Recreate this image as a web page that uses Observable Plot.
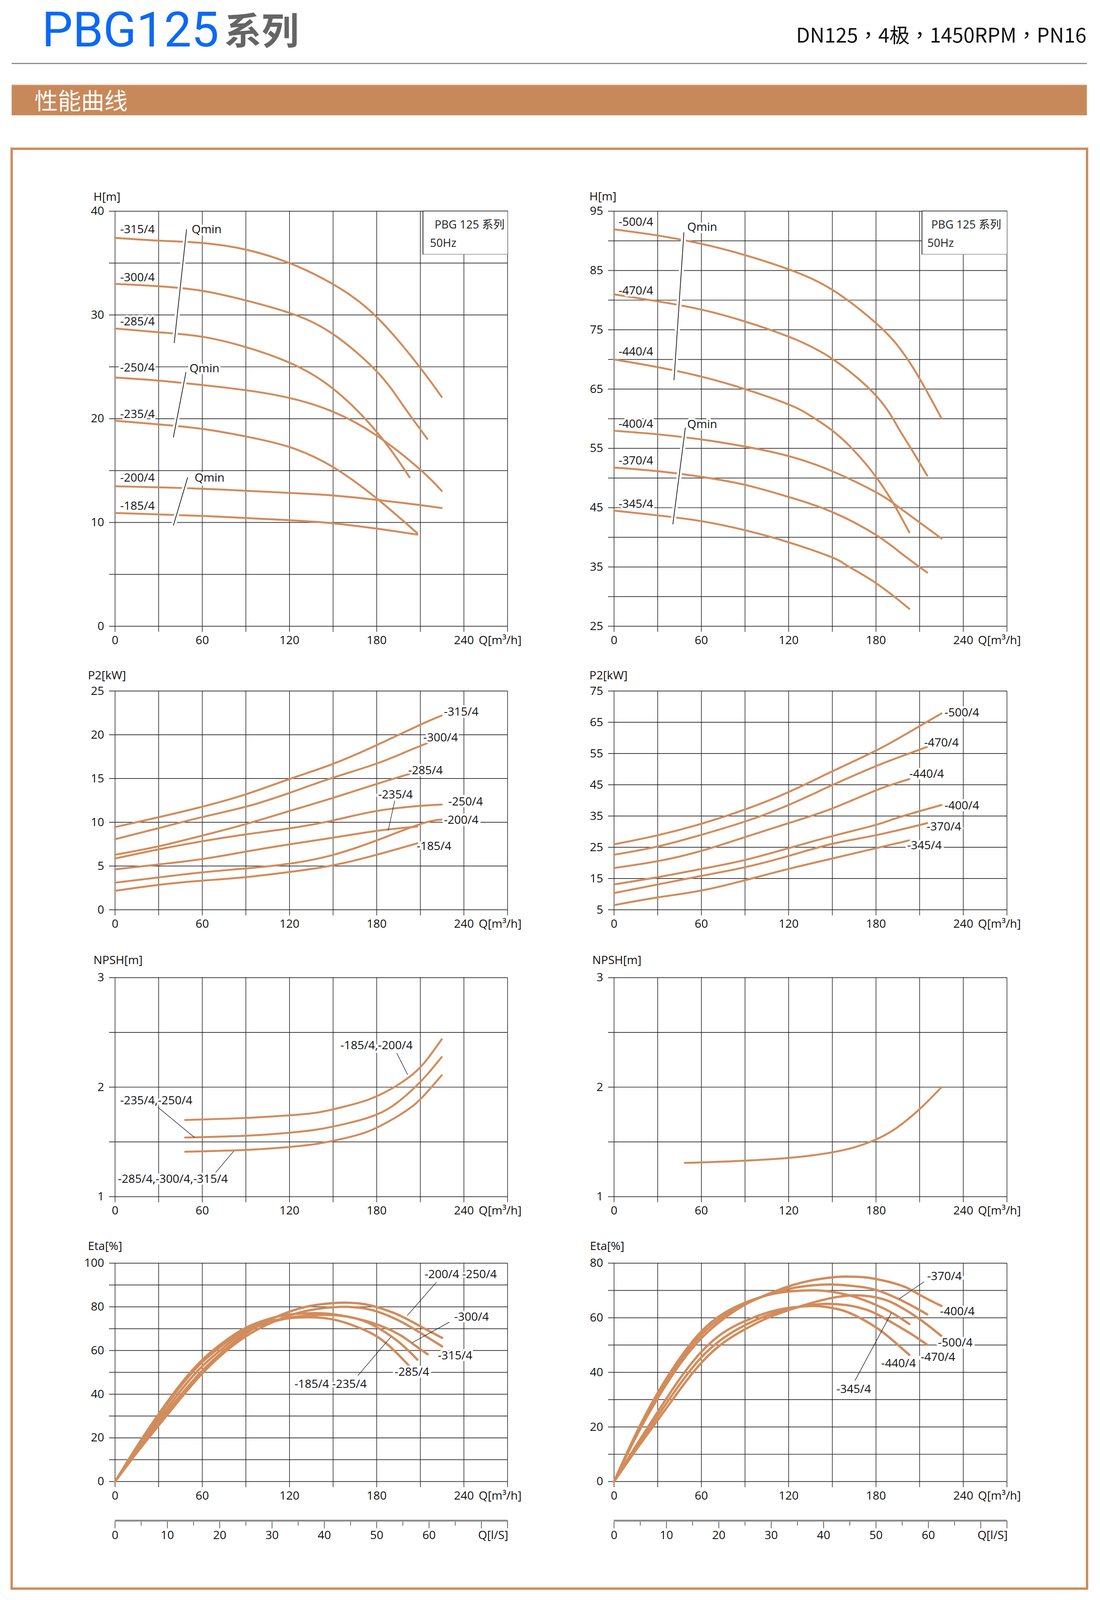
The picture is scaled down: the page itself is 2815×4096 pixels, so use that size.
<!DOCTYPE html>
<html><head><meta charset="utf-8">
<script src="https://cdn.jsdelivr.net/npm/d3@7"></script>
<script src="https://cdn.jsdelivr.net/npm/@observablehq/plot@0.6"></script>
<style>
html,body{margin:0;padding:0;background:#fff;overflow:hidden;}
#page{position:relative;width:2834px;height:4124px;transform:scale(0.993);transform-origin:0 0;background:#fff;}
.legend{position:absolute;background:#fff;box-sizing:border-box;border-top:2px solid #3c3c3c;border-right:1.5px solid #1a1a1a;border-left:2px solid #222;border-bottom:1.5px solid #555;font-family:'Open Sans','Noto Sans CJK SC',sans-serif;font-size:29px;color:#222;}
.legend span{position:absolute;line-height:36px;white-space:nowrap;}
</style></head>
<body><div id="page"></div>
<script>
// ---------- data: flow grid / ticks ----------
const Q_GRID = [0, 30, 60, 90, 120, 150, 180, 210, 240, 270];
const Q_LABELS = [0, 60, 120, 180, 240];
const Q_UNIT = "Q[m³/h]";
const Q_UNIT_AT = 240;
const LS_MAJOR = [0, 10, 20, 30, 40, 50, 60, 70, 75];
const LS_MINOR = [5, 15, 25, 35, 45, 55, 65];
const LS_LABELS = [0, 10, 20, 30, 40, 50, 60];

// ---------- H curves, left (m) ----------
const headL315 = [[0,37.43],[29.5,37.17],[60,36.94],[90,36.3],[120,35.0],[149.5,33.0],[180,29.8],[210,24.9],[224.7,22.1]];
const headL300 = [[0,33.0],[29.5,32.77],[60,32.33],[90,31.4],[120,30.2],[149.5,28.2],[180,24.56],[197,21.5],[214.8,18.06]];
const headL285 = [[0,28.7],[29.5,28.34],[60,27.9],[90,26.9],[120,25.4],[149.5,22.95],[180,18.73],[202.6,14.36]];
const headL250 = [[0,23.97],[29.5,23.68],[60,23.25],[90,22.75],[120,22.0],[149.5,20.7],[180,18.38],[210,15.09],[224.7,13.05]];
const headL235 = [[0,19.81],[29.5,19.46],[60,19.02],[90,18.29],[120,17.27],[149.5,15.38],[180,12.32],[207.9,8.97]];
const headL200 = [[0,13.49],[60,13.25],[120,12.85],[149.5,12.61],[180,12.18],[210,11.68],[224.7,11.39]];
const headL185 = [[0,10.92],[60,10.63],[120,10.22],[149.5,9.93],[180,9.41],[207.9,8.83]];
const headLLabels = [[3.5,38.25,"-315/4"],[3.5,33.6,"-300/4"],[3.5,29.36,"-285/4"],[3.5,24.9,"-250/4"],[3.5,20.42,"-235/4"],[3.5,14.3,"-200/4"],[3.5,11.6,"-185/4"]];
const headLQmin = [[52.7,38.25,"Qmin"],[51.2,24.85,"Qmin"],[54.7,14.3,"Qmin"]];
const headLSlash = [[49.2,38.25,40.7,27.3],[48.8,24.5,40.1,18.2],[50.0,14.36,40.1,9.7]];

// ---------- H curves, right (m) ----------
const headR500 = [[0,91.94],[30,90.9],[60,89.5],[90,87.6],[120,85.2],[150,81.74],[180,76.13],[195,72.3],[205,68.8],[215,64.6],[225,60.07]];
const headR470 = [[0,80.98],[30,79.8],[60,78.4],[90,76.4],[120,73.84],[150,70.1],[180,63.9],[195,58.6],[205,54.6],[215.2,50.4]];
const headR440 = [[0,70.0],[30,68.7],[60,67.1],[90,65.0],[120,62.4],[135,60.5],[150,58.0],[165,54.6],[180,50.2],[192,45.7],[202.9,40.84]];
const headR400 = [[0,57.98],[30,57.37],[60,56.5],[90,55.3],[120,53.7],[150,51.14],[180,47.6],[195,45.2],[210,42.5],[225,39.8]];
const headR370 = [[0,51.76],[30,51.15],[60,50.2],[90,48.85],[120,46.8],[150,44.26],[180,40.4],[198.4,37.1],[215.2,34.06]];
const headR345 = [[0,44.5],[30,43.7],[60,42.73],[90,41.2],[120,39.16],[150,36.6],[159.4,35.33],[180,32.28],[202.9,27.94]];
const headRLabels = [[3.1,93.2,"-500/4"],[3.1,81.6,"-470/4"],[3.1,71.3,"-440/4"],[3.1,59.1,"-400/4"],[3.1,52.9,"-370/4"],[3.1,45.6,"-345/4"]];
const headRQmin = [[50.3,92.3,"Qmin"],[50.3,59.05,"Qmin"]];
const headRSlash = [[48.0,91.43,41.2,66.5],[49.0,58.5,40.4,42.2]];

// ---------- P2 curves, left (kW) ----------
const powL315 = [[0,9.45],[29.5,10.56],[60,11.78],[90,13.2],[120,14.94],[149.5,16.65],[180,18.82],[210,21.15],[224.7,22.2]];
const powL300 = [[0,8.07],[29.5,9.31],[60,10.6],[90,11.78],[120,13.36],[149.5,15.07],[180,16.71],[200.7,18.09],[214.8,19.04]];
const powL285 = [[0,6.29],[29.5,7.24],[60,8.48],[90,9.8],[120,11.29],[149.5,12.77],[180,14.38],[202.6,15.53]];
const powL250 = [[0,5.86],[29.5,6.89],[60,7.83],[90,8.62],[120,9.31],[149.5,10.2],[180,11.29],[210,11.88],[224.7,12.02]];
const powL235 = [[0,4.62],[29.5,5.17],[60,5.8],[90,6.65],[120,7.48],[149.5,8.23],[180,9.02],[207.9,9.51]];
const powL200 = [[0,3.1],[29.5,3.69],[60,4.28],[90,4.72],[120,5.27],[149.5,6.25],[180,7.93],[210,9.8],[224.7,10.3]];
const powL185 = [[0,2.17],[29.5,2.84],[60,3.33],[90,3.73],[120,4.32],[149.5,5.07],[180,6.29],[207.9,7.6]];
const powLLabels = [[226.2,22.63,"-315/4"],[212,19.67,"-300/4"],[201.6,15.92,"-285/4"],[181,13.16,"-235/4"],[229.2,12.37,"-250/4"],[226.2,10.24,"-200/4"],[207.5,7.24,"-185/4"]];
const powLLeaders = [[192.4,12.47,187.9,9.06]];

// ---------- P2 curves, right (kW) ----------
const powR500 = [[0,25.94],[30.2,28.87],[60.3,32.57],[90.3,37.15],[120,42.68],[150,49.31],[180,55.94],[202.5,61.74],[225,67.82]];
const powR470 = [[0,22.62],[30.2,25.28],[60.3,29.03],[90.3,33.29],[120,38.54],[150,44.9],[180,50.97],[198.4,54.28],[215.2,57.15]];
const powR440 = [[0,18.37],[30.2,20.58],[60.3,23.9],[90.3,28.31],[120,32.73],[150,37.43],[180,43.23],[202.9,46.82]];
const powR400 = [[0,13.12],[30.2,15.44],[60.3,18.1],[90.3,20.97],[120,24.72],[150,28.59],[180,32.18],[196.3,34.67],[225,38.54]];
const powR370 = [[0,10.36],[30.2,13.12],[60.3,15.88],[90.3,18.65],[120,22.24],[150,26.1],[180,28.87],[215.2,32.73]];
const powR345 = [[0,6.49],[30.2,8.98],[60.3,11.19],[90.3,14.5],[120,18.09],[150,21.41],[180,24.72],[202.9,27.21]];
const powRLabels = [[227.1,68.1,"-500/4"],[213.1,58.4,"-470/4"],[202.9,48.5,"-440/4"],[227.1,38.3,"-400/4"],[214.8,31.6,"-370/4"],[201.4,25.55,"-345/4"]];

// ---------- NPSH curves (m) ----------
const npshL1 = [[48.2,1.70],[90,1.719],[120,1.743],[140,1.77],[160,1.83],[175,1.89],[190,1.985],[205,2.12],[215,2.26],[224.7,2.437]];
const npshL2 = [[48.2,1.54],[90,1.556],[120,1.584],[140,1.615],[160,1.67],[175,1.725],[190,1.82],[205.6,1.99],[215,2.12],[224.7,2.275]];
const npshL3 = [[48.2,1.41],[90,1.427],[120,1.454],[140,1.485],[160,1.54],[175,1.6],[190,1.7],[205,1.83],[215,1.96],[224.7,2.108]];
const npshLLabels = [[155,2.379,"-185/4,-200/4"],[3.5,1.876,"-235/4,-250/4"],[2,1.159,"-285/4,-300/4,-315/4"]];
const npshLLeaders = [[193.8,2.311,201.3,2.113],[29.5,1.816,54.7,1.54],[68.9,1.216,81.6,1.415]];
const npshR = [[48.6,1.308],[60.3,1.313],[90.3,1.329],[120,1.354],[136.8,1.378],[150,1.405],[165,1.45],[180,1.522],[194.3,1.629],[210.7,1.808],[225,2.0]];

// ---------- Eta curves, left (%) ----------
const etaL200_250 = [[0,0],[15,13.8],[30,27],[45,39.5],[60,50.8],[75,60],[90,67.8],[105,73.5],[120,77.8],[135,80.5],[150,81.7],[160,81.9],[170,81.4],[180,79.9],[195,76.3],[210,71.1],[225,65.8]];
const etaL315 = [[0,0],[15,13.2],[30,25.7],[45,38],[60,49.5],[75,59],[90,66.5],[105,72],[120,76],[135,78.6],[150,79.8],[160,80],[170,79.4],[180,77.9],[195,73.8],[210,68.1],[225,61.9]];
const etaL300 = [[0,0],[15,16],[30,30.9],[45,44.5],[60,55.7],[75,64],[90,70.4],[105,74.3],[120,76.5],[138,77.1],[150,76.6],[165,74.8],[180,72],[195,67.5],[205,63],[215,58.3]];
const etaL185_235 = [[0,0],[15,14.7],[30,28.3],[45,41.5],[60,52.8],[75,61.5],[90,68.8],[105,72.5],[120,75],[135,76.1],[148,76.3],[160,75.5],[170,73.8],[180,70.7],[195,64],[208,55.8]];
const etaL285 = [[0,0],[15,15.4],[30,29.9],[45,43.5],[60,54.7],[75,63],[90,69.8],[105,73.2],[120,74.8],[135,75.2],[150,74.2],[165,71.2],[180,66.5],[192,60],[202.8,52.6]];
const etaLLabels = [[212.9,94.9,"-200/4 -250/4"],[233.3,75.3,"-300/4"],[222,57.7,"-315/4"],[192.3,50.2,"-285/4"],[123.4,44.6,"-185/4 -235/4"]];
const etaLLeaders = [[221.1,91.3,201,76.0],[230,73,204.5,63.6],[167,48.5,189.7,66.2]];

// ---------- Eta curves, right (%) ----------
const etaR400 = [[0,0],[15,16.3],[30,30.5],[45,42.8],[60,52.5],[75,59.5],[90,64.8],[105,68.5],[120,71.5],[135,73.6],[150,74.8],[160,75.1],[170,74.9],[180,74.2],[198,71.7],[210,68.4],[225,64.3]];
const etaR370 = [[0,0],[15,17],[30,31.5],[45,44],[60,53.8],[75,60.5],[90,65],[105,68.3],[120,70.6],[135,71.8],[149,72.2],[165,71.6],[180,70.2],[195,67],[205,64.3],[215.2,61.25]];
const etaR345 = [[0,0],[15,17.5],[30,32.5],[45,45],[60,55],[75,61.5],[90,65.5],[105,68.2],[120,69.6],[137,70.05],[150,69.5],[165,67.7],[180,64.7],[192,61.5],[202.9,57.7]];
const etaR500 = [[0,0],[15,11.5],[30,22.5],[45,33.5],[60,43.5],[75,50.8],[90,55.8],[105,59.8],[120,62.8],[135,65.3],[150,67.3],[163,68.2],[175,67.9],[185,66.8],[195,64.5],[210,59.5],[225,53.3]];
const etaR470 = [[0,0],[15,12.3],[30,24],[45,35.5],[60,45.5],[75,52.5],[90,57.3],[105,60.8],[120,63.2],[135,64.6],[147,65.1],[160,64.6],[170,63.5],[180,61.5],[195,57],[205,53.8],[215.2,50.1]];
const etaR440 = [[0,0],[15,13],[30,25.5],[45,37.5],[60,47.5],[75,54.5],[90,58.8],[105,61.8],[120,63.6],[135,64.3],[145,64.0],[155,63.0],[165,61.0],[180,56.5],[192,51.5],[202.9,46.4]];
const etaRLabels = [[215.2,75.1,"-370/4"],[224,62.3,"-400/4"],[222.6,50.8,"-500/4"],[210.7,45.5,"-470/4"],[183.6,43.3,"-440/4"],[152.8,33.8,"-345/4"]];
const etaRLeaders = [[213.1,73.2,195.9,66.9],[165.5,36.9,190.6,61.8]];

// ---------- layout & style ----------
const CURVE = "#d28c5b";
const H_GRID = "#3c3c3c", V_GRID = "#1a1a1a";
const FONT = "'Open Sans','Noto Sans CJK SC',sans-serif";
const ML = 110, MR = 70, MT = 70, MB = 70;
const COL_L = [296, 1307.5], COL_R = [1582, 2594.5];
const ROW_H = [544, 1614], ROW_P = [1781, 2345], ROW_N = [2519.5, 3084], ROW_E = [3256, 3819];
const page = document.getElementById("page");

// decorations (header, bar, frame)
page.insertAdjacentHTML("beforeend", `
<svg width="2834" height="4124" style="position:absolute;left:0;top:0" xmlns="http://www.w3.org/2000/svg">
  <rect x="30" y="383.5" width="2771.5" height="3712" fill="none" stroke="#cf8a5c" stroke-width="6"/>
  <text x="108" y="120" font-family="Roboto,'Open Sans',sans-serif" font-size="126" fill="#0b69f4">PBG125</text>
  <text x="578" y="115" font-family="'Noto Sans CJK SC'" font-weight="700" font-size="96" fill="#656565">系列</text>
  <text x="2800" y="110" text-anchor="end" font-family="'Noto Sans CJK TC','Noto Sans CJK SC'" font-size="52" fill="#111">DN125，4极，1450RPM，PN16</text>
  <line x1="30" x2="2801" y1="163.7" y2="163.7" stroke="#8c8c8c" stroke-width="3"/>
  <rect x="30" y="218.3" width="2771" height="79" fill="#c8895a"/>
  <line x1="30" x2="2801" y1="219.5" y2="219.5" stroke="#dba07a" stroke-width="2"/>
  <text x="89" y="282" font-family="'Noto Sans CJK SC'" font-size="60" fill="#fff">性能曲线</text>
</svg>`);

function place(el, left, top) {
  el.style.position = "absolute";
  el.style.left = left + "px";
  el.style.top = top + "px";
  page.appendChild(el);
}

const asRows = series => series.flatMap(([name, pts]) => pts.map(([q, v]) => ({name, q, v})));

function drawChart(cfg) {
  const [x0, x1] = cfg.col, [y0, y1] = cfg.row;
  const width = x1 - x0 + ML + MR, height = y1 - y0 + MT + MB;
  const marks = [
    Plot.gridY({ticks: cfg.yGrid, stroke: H_GRID, strokeOpacity: 1, strokeWidth: 2}),
    Plot.gridX({ticks: Q_GRID, stroke: V_GRID, strokeOpacity: 1, strokeWidth: 1.5}),
    Plot.axisY({ticks: cfg.yGrid, tickSize: 15, tickPadding: 13, stroke: H_GRID, strokeWidth: 2,
      tickFormat: d => cfg.yLabels.includes(d) ? String(d) : "", label: null}),
    Plot.axisX({ticks: Q_GRID, tickSize: 15, tickPadding: 10, stroke: V_GRID, strokeWidth: 1.5,
      tickFormat: d => Q_LABELS.includes(d) ? String(d) : "", label: null}),
    Plot.text([Q_UNIT], {x: () => Q_UNIT_AT, text: d => d, frameAnchor: "bottom", textAnchor: "start", lineAnchor: "top", dx: 38, dy: 25, fill: "#111"}),
    Plot.text([cfg.title], {text: d => d, frameAnchor: "top-left", textAnchor: "start", lineAnchor: "middle", dx: cfg.titleDx, dy: cfg.titleDy, fill: "#111"}),
    Plot.line(asRows(cfg.series), {x: "q", y: "v", z: "name", stroke: CURVE, strokeWidth: cfg.sw || 5, curve: "natural"})
  ];
  if (cfg.slashes) {
    marks.push(Plot.link(cfg.slashes, {x1: d => d[0], y1: d => d[1], x2: d => d[2], y2: d => d[3], stroke: "white", strokeWidth: 13}));
    marks.push(Plot.link(cfg.slashes, {x1: d => d[0], y1: d => d[1], x2: d => d[2], y2: d => d[3], stroke: "#111", strokeWidth: 1.8}));
  }
  if (cfg.leaders) {
    marks.push(Plot.link(cfg.leaders, {x1: d => d[0], y1: d => d[1], x2: d => d[2], y2: d => d[3], stroke: "#111", strokeWidth: 1.3}));
  }
  const textOpts = {x: d => d[0], y: d => d[1], text: d => d[2], textAnchor: "start", fill: "#111",
    stroke: "white", strokeWidth: 11, strokeLinejoin: "round", paintOrder: "stroke"};
  if (cfg.labels) marks.push(Plot.text(cfg.labels, textOpts));
  if (cfg.qmin) marks.push(Plot.text(cfg.qmin, textOpts));
  const svg = Plot.plot({
    width, height, marginLeft: ML, marginRight: MR, marginTop: MT, marginBottom: MB,
    x: {domain: [0, 270], label: null},
    y: {domain: cfg.yDomain, label: null},
    style: {fontFamily: FONT, fontSize: "30px", color: "#111", background: "none", overflow: "visible"},
    marks
  });
  place(svg, x0 - ML, y0 - MT);
}

function legendBox(col, left, l1, l2) {
  const div = document.createElement("div");
  div.className = "legend";
  div.style.left = (left - 1) + "px";
  div.style.top = (ROW_H[0] - 1) + "px";
  div.style.width = (col[1] - left + 2) + "px";
  div.style.height = (656 - ROW_H[0] + 1) + "px";
  div.innerHTML = `<span style="left:${l1}px;top:15px">PBG 125 系列</span><span style="left:${l2}px;top:62px">50Hz</span>`;
  page.appendChild(div);
}

function drawLsAxis(col) {
  const [x0, x1] = col;
  const lineY = 3920;
  const svg = Plot.plot({
    width: x1 - x0 + ML + MR, height: 81, marginLeft: ML, marginRight: MR, marginTop: 10, marginBottom: 70,
    x: {domain: [0, 75], label: null},
    y: {domain: [0, 1], label: null, axis: null},
    style: {fontFamily: FONT, fontSize: "30px", color: "#111", background: "none", overflow: "visible"},
    marks: [
      Plot.axisX({ticks: LS_MAJOR, tickSize: 20, tickPadding: 6, strokeWidth: 1.3, tickFormat: d => LS_LABELS.includes(d) ? String(d) : "", label: null}),
      Plot.axisX({ticks: LS_MINOR, tickSize: 13, strokeWidth: 1.3, tickFormat: () => "", label: null}),
      Plot.ruleY([0], {stroke: "#a0a0a0", strokeWidth: 5}),
      Plot.ruleY([0], {stroke: "#666", strokeWidth: 1.2, dy: -1}),
      Plot.text(["Q[l/S]"], {x: () => 75, text: d => d, frameAnchor: "bottom", textAnchor: "end", lineAnchor: "top", dy: 26, dx: 2, fill: "#111"})
    ]
  });
  place(svg, x0 - ML, lineY - 11);
}

// ---- row 1: head ----
drawChart({col: COL_L, row: ROW_H, yDomain: [0, 40], yGrid: d3.range(0, 41, 5), yLabels: [0, 10, 20, 30, 40],
  title: "H[m]", titleDx: -55.5, titleDy: -36,
  series: [["-315/4", headL315], ["-300/4", headL300], ["-285/4", headL285], ["-250/4", headL250], ["-235/4", headL235], ["-200/4", headL200], ["-185/4", headL185]],
  labels: headLLabels, qmin: headLQmin, slashes: headLSlash});
drawChart({col: COL_R, row: ROW_H, yDomain: [25, 95], yGrid: d3.range(25, 96, 5), yLabels: [25, 35, 45, 55, 65, 75, 85, 95],
  title: "H[m]", titleDx: -63.5, titleDy: -37,
  series: [["-500/4", headR500], ["-470/4", headR470], ["-440/4", headR440], ["-400/4", headR400], ["-370/4", headR370], ["-345/4", headR345]],
  labels: headRLabels, qmin: headRQmin, slashes: headRSlash});
legendBox(COL_L, 1090, 29, 17);
legendBox(COL_R, 2376, 23, 13);

// ---- row 2: power ----
drawChart({col: COL_L, row: ROW_P, yDomain: [0, 25], yGrid: d3.range(0, 26, 5), yLabels: [0, 5, 10, 15, 20, 25],
  title: "P2[kW]", titleDx: -70, titleDy: -40,
  series: [["-315/4", powL315], ["-300/4", powL300], ["-285/4", powL285], ["-250/4", powL250], ["-235/4", powL235], ["-200/4", powL200], ["-185/4", powL185]],
  labels: powLLabels, leaders: powLLeaders});
drawChart({col: COL_R, row: ROW_P, yDomain: [5, 75], yGrid: d3.range(5, 76, 10), yLabels: [5, 15, 25, 35, 45, 55, 65, 75],
  title: "P2[kW]", titleDx: -63.5, titleDy: -40,
  series: [["-500/4", powR500], ["-470/4", powR470], ["-440/4", powR440], ["-400/4", powR400], ["-370/4", powR370], ["-345/4", powR345]],
  labels: powRLabels});

// ---- row 3: NPSH ----
drawChart({col: COL_L, row: ROW_N, yDomain: [1, 3], yGrid: [1, 1.5, 2, 2.5, 3], yLabels: [1, 2, 3],
  title: "NPSH[m]", titleDx: -55.5, titleDy: -45,
  series: [["-185/4,-200/4", npshL1], ["-235/4,-250/4", npshL2], ["-285/4,-300/4,-315/4", npshL3]],
  labels: npshLLabels, leaders: npshLLeaders});
drawChart({col: COL_R, row: ROW_N, yDomain: [1, 3], yGrid: [1, 1.5, 2, 2.5, 3], yLabels: [1, 2, 3],
  title: "NPSH[m]", titleDx: -56, titleDy: -45,
  series: [["all", npshR]]});

// ---- row 4: efficiency ----
drawChart({col: COL_L, row: ROW_E, yDomain: [0, 100], yGrid: d3.range(0, 101, 10), yLabels: [0, 20, 40, 60, 80, 100],
  title: "Eta[%]", titleDx: -70, titleDy: -44, sw: 6,
  series: [["-200/4,-250/4", etaL200_250], ["-315/4", etaL315], ["-300/4", etaL300], ["-185/4,-235/4", etaL185_235], ["-285/4", etaL285]],
  labels: etaLLabels, leaders: etaLLeaders});
drawChart({col: COL_R, row: ROW_E, yDomain: [0, 80], yGrid: d3.range(0, 81, 10), yLabels: [0, 20, 40, 60, 80],
  title: "Eta[%]", titleDx: -62, titleDy: -44, sw: 6,
  series: [["-400/4", etaR400], ["-370/4", etaR370], ["-345/4", etaR345], ["-500/4", etaR500], ["-470/4", etaR470], ["-440/4", etaR440]],
  labels: etaRLabels, leaders: etaRLeaders});

// ---- l/s axes ----
drawLsAxis(COL_L);
drawLsAxis(COL_R);
</script>
</body></html>
